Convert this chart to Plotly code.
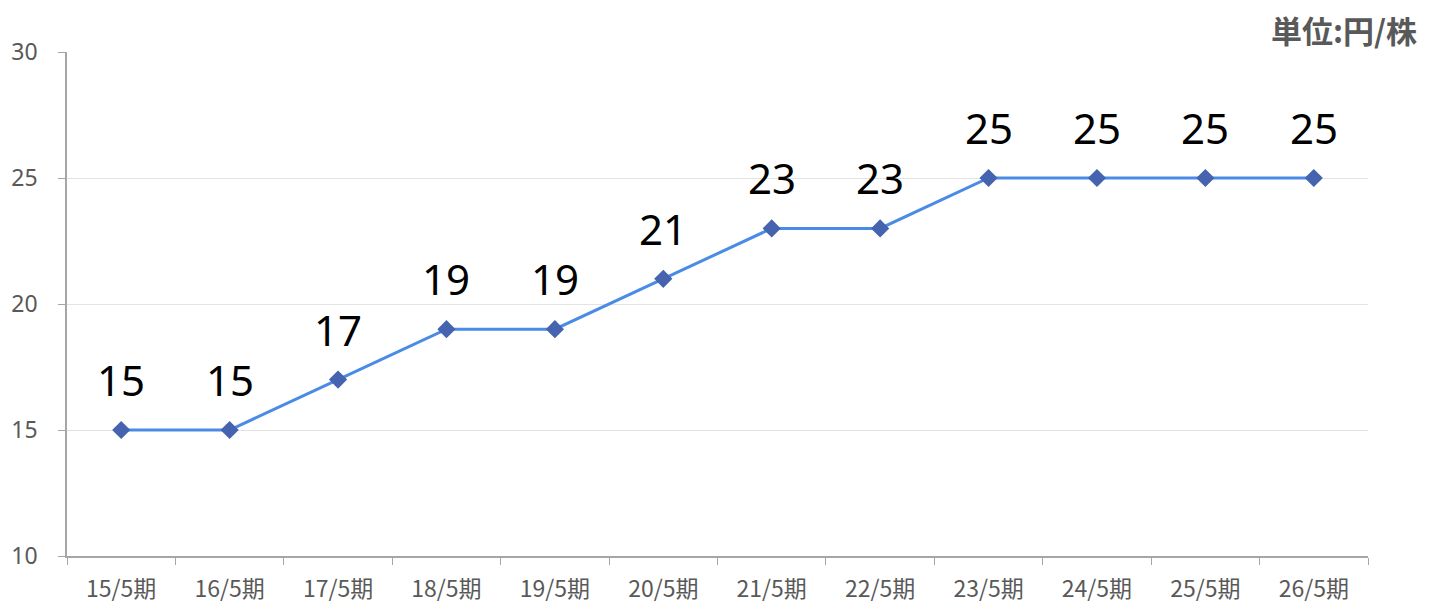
import plotly.graph_objects as go

categories = ["15/5期", "16/5期", "17/5期", "18/5期", "19/5期", "20/5期",
              "21/5期", "22/5期", "23/5期", "24/5期", "25/5期", "26/5期"]
dividends = [15, 15, 17, 19, 19, 21, 23, 23, 25, 25, 25, 25]
y_ticks = [10, 15, 20, 25, 30]
unit_label = "単位:円/株"

JP = "Noto Sans CJK JP"

fig = go.Figure()
fig.add_trace(go.Scatter(
    x=categories, y=dividends, mode="lines+markers",
    line=dict(color="#4A8BE6", width=3),
    marker=dict(symbol="diamond", size=14, color="#4563AE"),
    hoverinfo="skip", showlegend=False,
))

for c, v in zip(categories, dividends):
    fig.add_annotation(x=c, y=v, text=str(v), showarrow=False,
                       yanchor="bottom", yshift=20,
                       font=dict(family="Noto Sans", size=42, color="#000000"))

fig.add_annotation(xref="paper", yref="paper", x=1.0395, y=1.0456, xanchor="right",
                   yanchor="middle", text="<b>" + unit_label + "</b>",
                   showarrow=False, font=dict(family=JP, size=31, color="#595959"))

fig.update_layout(
    width=1421, height=598,
    margin=dict(l=59, r=61, t=44, b=50, autoexpand=False),
    paper_bgcolor="white", plot_bgcolor="white",
    xaxis=dict(type="category", range=[-0.5, 11.5], tickson="boundaries",
               ticks="outside", ticklen=7, tickcolor="#A6A6A6",
               showline=True, linecolor="#A6A6A6", linewidth=1.5,
               showgrid=False, zeroline=False, ticklabelstandoff=12,
               automargin=False,
               tickfont=dict(family=JP, size=23, color="#595959")),
    yaxis=dict(range=[10, 30], tickvals=y_ticks, ticks="outside", ticklen=7,
               tickcolor="#A6A6A6", showline=True, linecolor="#A6A6A6",
               linewidth=1.5, showgrid=True, gridcolor="#E3E3E3", gridwidth=1,
               zeroline=False, ticklabelstandoff=16, automargin=False,
               tickfont=dict(family="Noto Sans", size=23, color="#595959")),
)

fig.write_html("out.html")
